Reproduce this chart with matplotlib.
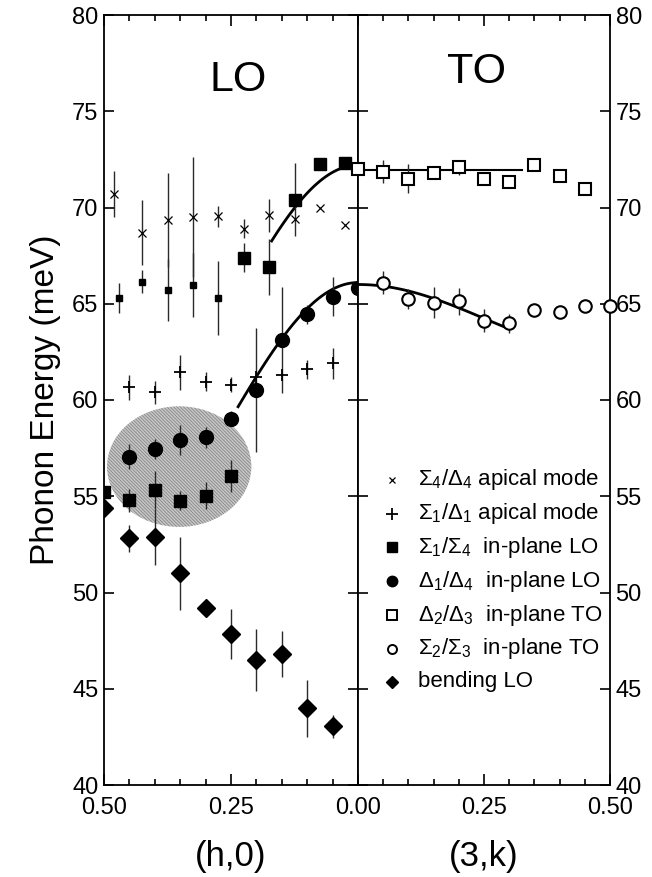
import numpy as np
import matplotlib
matplotlib.use("Agg")
import matplotlib.pyplot as plt
from matplotlib.patches import Ellipse
from matplotlib.lines import Line2D

plt.rcParams['font.family'] = ['Liberation Sans', 'DejaVu Sans']
plt.rcParams['mathtext.fontset'] = 'custom'
plt.rcParams['mathtext.rm'] = 'Liberation Sans'
plt.rcParams['mathtext.it'] = 'Liberation Sans:italic'
plt.rcParams['mathtext.bf'] = 'Liberation Sans:bold'
plt.rcParams['hatch.linewidth'] = 0.5

# ---------------- data (left panel: (h,0), right panel: (3,k)) ----------------
h_apical4 = [0.48, 0.425, 0.375, 0.325, 0.275, 0.225, 0.175, 0.125, 0.075, 0.025]
E_apical4 = [70.7, 68.7, 69.35, 69.5, 69.55, 68.9, 69.6, 69.4, 70.0, 69.1]
err_apical4 = [1.2, 1.7, 2.45, 3.1, 0.55, 0.5, 0.85, 0.0, 0.0, 0.0]

h_apical1 = [0.45, 0.40, 0.35, 0.30, 0.25, 0.20, 0.15, 0.10, 0.05]
E_apical1 = [60.66, 60.4, 61.44, 60.95, 60.8, 61.18, 61.3, 61.6, 61.9]
err_apical1 = [0.65, 0.6, 0.9, 0.5, 0.4, 0.0, 0.0, 0.5, 0.8]

h_sqLO = [0.50, 0.45, 0.40, 0.35, 0.30, 0.25, 0.225, 0.175, 0.125, 0.075, 0.025]
E_sqLO = [55.2, 54.8, 55.33, 54.77, 55.03, 56.05, 67.4, 66.9, 70.4, 72.25, 72.3]
err_sqLO = [0.0, 0.6, 1.0, 0.5, 0.7, 0.85, 0.75, 1.45, 1.9, 0.0, 0.0]

h_sqLO_weak = [0.47, 0.425, 0.375, 0.325, 0.275]
E_sqLO_weak = [65.3, 66.15, 65.7, 65.97, 65.3]
err_sqLO_weak = [0.8, 0.6, 1.6, 1.67, 1.9]

h_ciLO = [0.45, 0.40, 0.35, 0.30, 0.25, 0.20, 0.15, 0.10, 0.05, 0.0]
E_ciLO = [57.06, 57.45, 57.92, 58.06, 59.03, 60.52, 63.1, 64.45, 65.37, 65.83]
err_ciLO = [0.65, 0.5, 0.8, 0.55, 0.4, 3.2, 2.75, 0.5, 1.03, 0.0]

h_bend = [0.50, 0.45, 0.40, 0.35, 0.30, 0.25, 0.20, 0.15, 0.10, 0.05]
E_bend = [54.4, 52.82, 52.9, 51.0, 49.18, 47.83, 46.5, 46.8, 43.98, 43.06]
err_bend = [0.0, 0.7, 1.45, 1.9, 0.0, 1.3, 1.6, 1.2, 1.5, 0.6]

k_sqTO = [0.0, 0.05, 0.10, 0.15, 0.20, 0.25, 0.30, 0.35, 0.40, 0.45]
E_sqTO = [72.0, 71.86, 71.5, 71.8, 72.09, 71.46, 71.34, 72.2, 71.64, 70.95]
err_sqTO = [0.0, 0.6, 0.75, 0.2, 0.4, 0.2, 0.2, 0.0, 0.0, 0.0]

k_ciTO = [0.05, 0.10, 0.15, 0.20, 0.25, 0.30, 0.35, 0.40, 0.45, 0.50]
E_ciTO = [66.1, 65.25, 65.06, 65.14, 64.12, 63.98, 64.68, 64.59, 64.9, 64.9]
err_ciTO = [0.6, 0.5, 0.8, 0.7, 0.6, 0.5, 0.0, 0.0, 0.0, 0.0]

# guide-to-the-eye fits: E = E0 - A*(1 - cos(2 pi q)), over [0, qmax]
fit_sqLO = (72.2, 7.6, 0.17)
fit_ciLO = (66.1, 7.07, 0.236)
fit_ciTO = (66.0, 1.76, 0.29)
flat_sqTO = (71.95, 0.325)

# shaded region (centre h, centre E, width, height)
shade = (0.352, 56.54, 0.284, 6.26)

# ---------------- figure ----------------
W, H = 652, 877
fig = plt.figure(figsize=(W / 100, H / 100), dpi=100)
axL = fig.add_axes([104 / W, 1 - 785 / H, 254 / W, 770 / H])
axR = fig.add_axes([358 / W, 1 - 785 / H, 252 / W, 770 / H])

ecol = '#2a2a2a'


def pts(ax, x, y, err, marker, ms, fc='black', mew=1.0, clip=True, z=3):
    x = np.asarray(x); y = np.asarray(y); err = np.asarray(err)
    m = err > 0
    if m.any():
        ax.errorbar(x[m], y[m], yerr=err[m], fmt='none', ecolor=ecol,
                    elinewidth=1.0, capsize=0, zorder=z - 1, clip_on=clip)
    ax.plot(x, y, linestyle='none', marker=marker, ms=ms, mfc=fc, mec='black',
            mew=mew, zorder=z, clip_on=clip)


for ax in (axL, axR):
    ax.set_ylim(40, 80)
    ax.set_yticks(np.arange(40, 81, 5))
    ax.set_xticks([0, 0.25, 0.5])
    ax.set_xticks(np.arange(0, 0.501, 0.05), minor=True)
    ax.tick_params(which='both', direction='in', top=True, bottom=True,
                   left=True, right=True, width=1.2, labelsize=17)
    ax.tick_params(which='major', length=8)
    ax.tick_params(which='minor', length=4.5)
    ax.tick_params(axis='y', which='major', length=7.5, pad=4)
    ax.tick_params(axis='x', which='both', pad=9)
    for s in ax.spines.values():
        s.set_linewidth(1.3)

axL.set_xlim(0.5, 0.0)
axR.set_xlim(0.0, 0.5)
axL.set_xticklabels(['0.00', '0.25', '0.50'])
axR.set_xticklabels(['', '0.25', '0.50'])
axL.tick_params(axis='y', labelleft=True, labelright=False)
axR.tick_params(axis='y', labelleft=False, labelright=True)
axL.set_ylabel('Phonon Energy (meV)', fontsize=24, labelpad=8)
axL.set_xlabel('(h,0)', fontsize=25, labelpad=15)
axR.set_xlabel('(3,k)', fontsize=25, labelpad=15)

# shaded ellipse
axL.add_patch(Ellipse((shade[0], shade[1]), shade[2], shade[3],
                      facecolor='#c6c6c6', edgecolor='#7c7c7c', hatch='\\' * 10,
                      linewidth=0, zorder=1))

# fits
q = np.linspace(0, fit_sqLO[2], 100)
axL.plot(q, fit_sqLO[0] - fit_sqLO[1] * (1 - np.cos(2 * np.pi * q)), color='black', lw=2, zorder=2)
q = np.linspace(0, fit_ciLO[2], 100)
axL.plot(q, fit_ciLO[0] - fit_ciLO[1] * (1 - np.cos(2 * np.pi * q)), color='black', lw=2, zorder=2)
q = np.linspace(0, fit_ciTO[2], 100)
axR.plot(q, fit_ciTO[0] - fit_ciTO[1] * (1 - np.cos(2 * np.pi * q)), color='black', lw=2, zorder=2)
axR.plot([0, flat_sqTO[1]], [flat_sqTO[0], flat_sqTO[0]], color='black', lw=1.5, zorder=2)

# left panel points
pts(axL, h_apical4, E_apical4, err_apical4, 'x', 5.5, mew=0.9)
pts(axL, h_apical1, E_apical1, err_apical1, '+', 9, mew=1.3)
pts(axL, h_sqLO_weak, E_sqLO_weak, err_sqLO_weak, 's', 5)
pts(axL, h_sqLO, E_sqLO, err_sqLO, 's', 9)
pts(axL, h_ciLO[:-1], E_ciLO[:-1], err_ciLO[:-1], 'o', 10)
pts(axL, h_ciLO[-1:], E_ciLO[-1:], err_ciLO[-1:], 'o', 10, clip=False, z=5)
pts(axL, h_bend, E_bend, err_bend, 'D', 9)

# right panel points
pts(axR, k_sqTO, E_sqTO, err_sqTO, 's', 8.5, fc='white', mew=1.5, clip=False)
pts(axR, k_ciTO, E_ciTO, err_ciTO, 'o', 9, fc='white', mew=1.5, clip=False)

# panel labels
axL.text(238, 877 - 80, 'LO', transform=None, fontsize=31, ha='center', va='center')
axR.text(477, 877 - 72, 'TO', transform=None, fontsize=31, ha='center', va='center')

# legend (drawn on the right panel)
leg_labels = [r'$\Sigma_4/\Delta_4$ apical mode',
              r'$\Sigma_1/\Delta_1$ apical mode',
              r'$\Sigma_1/\Sigma_4$  in-plane LO',
              r'$\Delta_1/\Delta_4$  in-plane LO',
              r'$\Delta_2/\Delta_3$  in-plane TO',
              r'$\Sigma_2/\Sigma_3$  in-plane TO',
              'bending LO']
leg_markers = [('x', 5, 'black', 0.9), ('+', 9, 'black', 1.3), ('s', 6.5, 'black', 1.0),
               ('o', 7.5, 'black', 1.0), ('s', 6.5, 'white', 1.4), ('o', 6.5, 'white', 1.4),
               ('D', 6.5, 'black', 1.0)]
leg_rows_px = [480, 513.5, 547, 581, 615, 648.5, 682]
for lab, (mk, ms, fc, mew), yp in zip(leg_labels, leg_markers, leg_rows_px):
    yf = 1 - yp / H
    fig.add_artist(Line2D([392 / W], [yf], marker=mk, ms=ms, mfc=fc, mec='black',
                          mew=mew, linestyle='none', transform=fig.transFigure))
    fig.text(418 / W, yf, lab, fontsize=16, ha='left', va='center')

fig.savefig('out.png', dpi=100)
